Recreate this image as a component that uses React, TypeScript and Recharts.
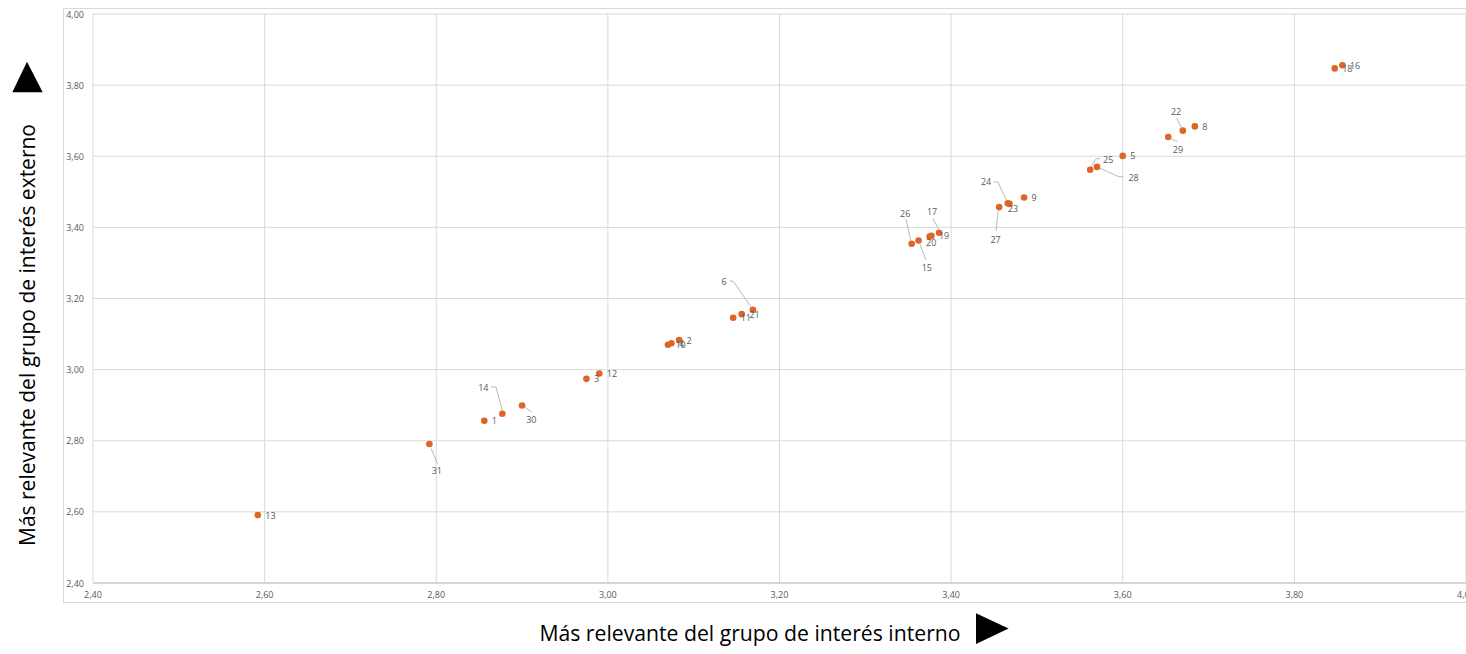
import React from "react";
import {
  ScatterChart,
  Scatter,
  XAxis,
  YAxis,
  CartesianGrid,
} from "recharts";

// point ids as shown in the data labels
const POINT_IDS = [
  13, 31, 1, 14, 30, 3, 12, 10, 4, 2, 11, 21, 6, 26, 15, 20, 19, 17, 27, 24,
  23, 9, 25, 28, 5, 29, 22, 8, 18, 16,
];

// "Más relevante del grupo de interés interno"
const INTERNO = [
  2.592, 2.792, 2.856, 2.877, 2.9, 2.975, 2.99, 3.07, 3.074, 3.083, 3.146,
  3.156, 3.169, 3.354, 3.362, 3.375, 3.377, 3.386, 3.456, 3.466, 3.468, 3.485,
  3.562, 3.57, 3.6, 3.653, 3.67, 3.684, 3.847, 3.856,
];

// "Más relevante del grupo de interés externo"
const EXTERNO = [
  2.591, 2.791, 2.856, 2.876, 2.899, 2.974, 2.989, 3.07, 3.074, 3.083, 3.146,
  3.156, 3.168, 3.354, 3.363, 3.374, 3.376, 3.385, 3.457, 3.468, 3.466, 3.484,
  3.562, 3.57, 3.601, 3.654, 3.672, 3.684, 3.847, 3.856,
];

const AXIS_TICKS = [2.4, 2.6, 2.8, 3.0, 3.2, 3.4, 3.6, 3.8, 4.0];

const X_TITLE = "Más relevante del grupo de interés interno";
const Y_TITLE = "Más relevante del grupo de interés externo";

const data = POINT_IDS.map((id, i) => ({ id, x: INTERNO[i], y: EXTERNO[i] }));

// labels that were dragged away from their point (label centre + leader line)
type Placement = { dx: number; dy: number; leader?: [number, number][] };
const MOVED_LABELS: Record<number, Placement> = {
  31: { dx: 7.4, dy: 27, leader: [[1.7, 4.6], [8, 19.6]] },
  14: { dx: -19, dy: -26.7, leader: [[-11.3, -26.7], [-6.3, -26.7], [0, -3]] },
  30: { dx: 9.3, dy: 13.7, leader: [[2.3, 1.3], [9.3, 6.4]] },
  6: { dx: -28.7, dy: -28.4, leader: [[-22.7, -29], [-19.3, -28.3], [-1.5, -2.3]] },
  26: { dx: -6.4, dy: -30.4, leader: [[-5.7, -24.4], [-0.7, -3]] },
  15: { dx: 8.3, dy: 27, leader: [[1.3, 3.3], [7.3, 19.3]] },
  17: { dx: -7, dy: -21.7, leader: [[-6.4, -14.4], [0, -2.7]] },
  20: { dx: 1.5, dy: 6 },
  27: { dx: -3.6, dy: 32, leader: [[-3, 23.7], [-1, 2.7]] },
  24: { dx: -21.7, dy: -21.3, leader: [[-14, -21.3], [-10, -21.3], [-1, -2.3]] },
  23: { dx: 3.5, dy: 4.5 },
  25: { dx: 18, dy: -10.5, leader: [[10, -11], [6, -11], [1, -3]] },
  28: { dx: 36.6, dy: 10.7, leader: [[2.3, 1], [21.6, 9.7], [26.3, 10]] },
  29: { dx: 9.7, dy: 12.4, leader: [[1.7, 1.2], [9, 4.4]] },
  22: { dx: -6.7, dy: -19.3, leader: [[-6.3, -12.7], [-0.7, -1.7]] },
};

const FONT = "'Open Sans', 'Noto Sans', sans-serif";
const POINT_COLOR = "#DE6427";
const TEXT_COLOR = "#595959";
const GRID_COLOR = "#D9D9D9";

const fmt = (v: number) => v.toFixed(2).replace(".", ",");

function Dot(props: any) {
  const { cx, cy } = props;
  if (cx == null || cy == null) return null;
  return <circle cx={cx} cy={cy} r={3.3} fill={POINT_COLOR} />;
}

function PointLabel(props: any) {
  const { cx, cy, payload } = props;
  if (cx == null || cy == null) return null;
  const moved = MOVED_LABELS[payload.id];
  const style = { fontFamily: FONT, fontSize: 9, fill: TEXT_COLOR };
  if (!moved) {
    return (
      <text x={cx + 7.5} y={cy} dominantBaseline="central" {...style}>
        {payload.id}
      </text>
    );
  }
  return (
    <g>
      {moved.leader && (
        <polyline
          points={moved.leader.map(([a, b]) => `${cx + a},${cy + b}`).join(" ")}
          fill="none"
          stroke="#A6A6A6"
          strokeWidth={0.8}
        />
      )}
      <text
        x={cx + moved.dx}
        y={cy + moved.dy}
        textAnchor="middle"
        dominantBaseline="central"
        {...style}
      >
        {payload.id}
      </text>
    </g>
  );
}

function XTick(props: any) {
  const { x, y, payload } = props;
  return (
    <text
      x={x}
      y={y}
      dy={6}
      textAnchor="middle"
      fontFamily={FONT}
      fontSize={9}
      fill={TEXT_COLOR}
    >
      {fmt(payload.value)}
    </text>
  );
}

function YTick(props: any) {
  const { x, y, payload } = props;
  return (
    <text
      x={x}
      y={y}
      textAnchor="end"
      dominantBaseline="central"
      fontFamily={FONT}
      fontSize={9}
      fill={TEXT_COLOR}
    >
      {fmt(payload.value)}
    </text>
  );
}

export default function App() {
  return (
    <div
      style={{
        position: "fixed",
        left: 0,
        top: 0,
        width: 1466,
        height: 654,
        overflow: "hidden",
        background: "#fff",
      }}
    >
      <svg
        width={1466}
        height={654}
        style={{ position: "absolute", left: 0, top: 0 }}
      >
        <rect
          x={63.5}
          y={8.5}
          width={1420}
          height={594}
          fill="none"
          stroke={GRID_COLOR}
        />
        <polygon points="27,61.7 12.3,92.3 42.7,92.3" fill="#000" />
        <polygon points="976,613.3 1008.6,628.6 976,643.9" fill="#000" />
        <text
          transform="translate(35,335) rotate(-90)"
          textAnchor="middle"
          fontFamily={FONT}
          fontSize={21}
          fill="#000"
        >
          {Y_TITLE}
        </text>
        <text
          x={750}
          y={641}
          textAnchor="middle"
          fontFamily={FONT}
          fontSize={21.2}
          fill="#000"
        >
          {X_TITLE}
        </text>
      </svg>
      <div style={{ position: "absolute", left: 0, top: 0 }}>
        <ScatterChart
          width={1466}
          height={654}
          margin={{ top: 14, right: 0, bottom: 41, left: 63 }}
        >
          <CartesianGrid stroke={GRID_COLOR} strokeWidth={1} />
          <XAxis
            type="number"
            dataKey="x"
            domain={[2.4, 4.0]}
            ticks={AXIS_TICKS}
            interval={0}
            height={30}
            tickLine={false}
            tickSize={0}
            tickMargin={9}
            axisLine={{ stroke: "#BFBFBF" }}
            tick={<XTick />}
          />
          <YAxis
            type="number"
            dataKey="y"
            domain={[2.4, 4.0]}
            ticks={AXIS_TICKS}
            interval={0}
            width={30}
            tickLine={false}
            tickSize={0}
            tickMargin={9}
            axisLine={false}
            tick={<YTick />}
          />
          <Scatter data={data} shape={<Dot />} isAnimationActive={false} />
          <Scatter data={data} shape={<PointLabel />} isAnimationActive={false} />
        </ScatterChart>
      </div>
    </div>
  );
}
